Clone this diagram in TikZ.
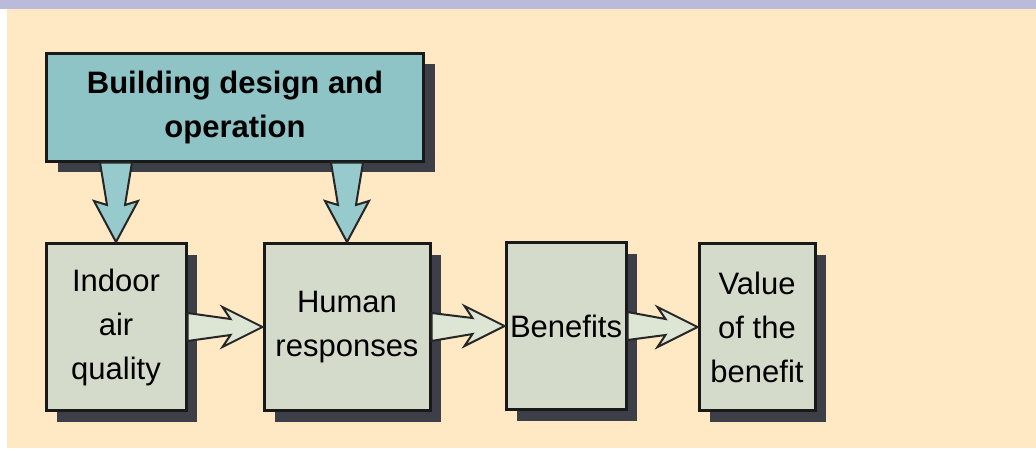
\documentclass[tikz,border=0pt]{standalone}
\usepackage{fontspec}
\setmainfont{Liberation Sans}
\usetikzlibrary{calc,shadows}

\definecolor{bgbeige}{HTML}{FFE8C4}
\definecolor{bandblue}{HTML}{BCBADB}
\definecolor{topteal}{HTML}{8EC4C6}
\definecolor{arrteal}{HTML}{96CACC}
\definecolor{boxgreen}{HTML}{D5DBCA}
\definecolor{arrgreen}{HTML}{DDE5D4}
\definecolor{shadowc}{HTML}{3C3F48}

% block arrows, from the first point to the tip
\newcommand{\fatdown}[2]{%
  \filldraw[downarr] ($(#1)+(-16,0)$) -- ($(#2)+(-9,-37)$) -- ($(#2)+(-22,-41)$) -- (#2)
    -- ($(#2)+(22,-41)$) -- ($(#2)+(9,-37)$) -- ($(#1)+(16,0)$) -- cycle;}
\newcommand{\fatright}[2]{%
  \filldraw[rightarr] ($(#1)+(0,-14)$) -- ($(#2)+(-32,-8)$) -- ($(#2)+(-40,-20)$) -- (#2)
    -- ($(#2)+(-40,20)$) -- ($(#2)+(-32,8)$) -- ($(#1)+(0,14)$) -- cycle;}

\begin{document}
\begin{tikzpicture}[x=1pt,y=-1pt,
  box/.style={draw=black!90, line width=3pt, fill=boxgreen, align=center, inner sep=0pt,
    font=\fontsize{31}{44}\selectfont, minimum height=167pt,
    drop shadow={shadow xshift=11pt, shadow yshift=-11pt, fill=shadowc, opacity=1}},
  downarr/.style={draw=black!85, line width=2pt, fill=arrteal, line join=miter},
  rightarr/.style={draw=black!85, line width=2pt, fill=arrgreen, line join=miter}]

\useasboundingbox (0,0) rectangle (1036,450);
\fill[white] (0,0) rectangle (1036,450);
\fill[bgbeige] (7,9) rectangle (1036,448);
\fill[bandblue] (0,0) rectangle (1036,9);

\node[box, fill=topteal, minimum width=377pt, minimum height=108pt, font=\fontsize{31}{44}\selectfont\bfseries]
  (bdo) at (235,107) {Building design and\\operation};

\node[box, minimum width=140pt] (iaq) at (116,327) {Indoor\\air\\quality};
\node[box, minimum width=166pt] (hr) at (347,327) {Human\\responses};
\node[box, minimum width=120pt] (ben) at (566,326) {Benefits};
\node[box, minimum width=116pt] (val) at (757,327) {Value\\of the\\benefit};

\coordinate (d1) at (bdo.south -| iaq.north);
\coordinate (d2) at (bdo.south -| hr.north);
\fatdown{d1}{iaq.north}
\fatdown{d2}{hr.north}

\fatright{iaq.east}{hr.west}
\fatright{hr.east}{ben.west}
\fatright{ben.east}{val.west}

\end{tikzpicture}
\end{document}
